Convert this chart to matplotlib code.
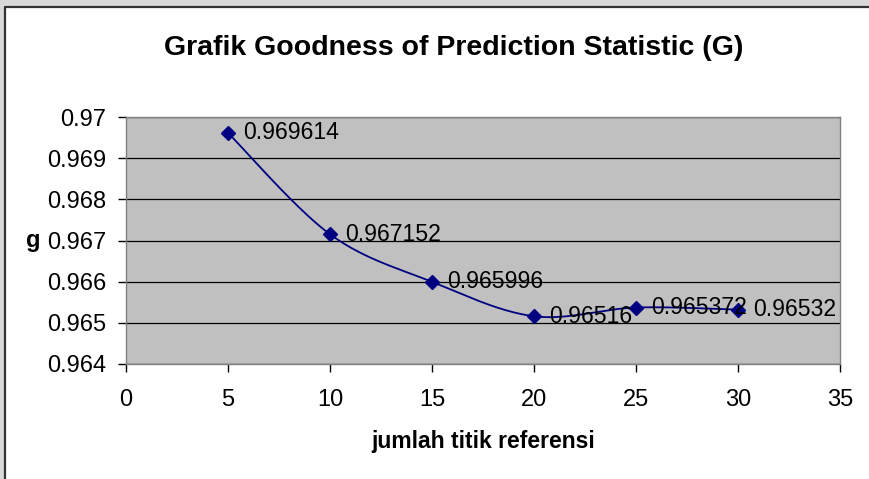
import numpy as np
import matplotlib
matplotlib.use("Agg")
import matplotlib.pyplot as plt
from matplotlib.patches import Rectangle
from matplotlib.lines import Line2D

plt.rcParams['font.family'] = ['Liberation Sans', 'DejaVu Sans']

# goodness of prediction per number of reference points
n_ref = [5, 10, 15, 20, 25, 30]
g_val = [0.969614, 0.967152, 0.965996, 0.96516, 0.965372, 0.96532]
g_lbl = ['0.969614', '0.967152', '0.965996', '0.96516', '0.965372', '0.96532']
xticks = [0, 5, 10, 15, 20, 25, 30, 35]
yticks = [0.964, 0.965, 0.966, 0.967, 0.968, 0.969, 0.97]
ytick_lbl = ['0.964', '0.965', '0.966', '0.967', '0.968', '0.969', '0.97']


def smooth(x, y, steps=40):
    # cubic Bezier through the points, Catmull-Rom style control points
    x = np.asarray(x, float); y = np.asarray(y, float)
    px = np.concatenate([[x[0]], x, [x[-1]]])
    py = np.concatenate([[y[0]], y, [y[-1]]])
    t = np.linspace(0, 1, steps)[:, None]
    xs, ys = [], []
    for i in range(1, len(px) - 2):
        p0 = np.array([px[i], py[i]]); p3 = np.array([px[i + 1], py[i + 1]])
        c1 = p0 + (p3 - np.array([px[i - 1], py[i - 1]])) / 6
        c2 = p3 - (np.array([px[i + 2], py[i + 2]]) - p0) / 6
        seg = ((1 - t) ** 3) * p0 + 3 * ((1 - t) ** 2) * t * c1 + 3 * (1 - t) * t ** 2 * c2 + t ** 3 * p3
        xs.append(seg[:, 0]); ys.append(seg[:, 1])
    return np.concatenate(xs), np.concatenate(ys)


fig = plt.figure(figsize=(8.7, 4.79), dpi=100)
fig.patch.set_facecolor('white')
# grey margin strips and the chart frame (top and left edges only)
x0, y0 = 5 / 870, 1 - 7 / 479
fig.add_artist(Rectangle((0, y0), 1, 1 - y0, transform=fig.transFigure,
                         facecolor='#d9d9d9', edgecolor='none', zorder=-10))
fig.add_artist(Rectangle((0, 0), x0, 1, transform=fig.transFigure,
                         facecolor='#d9d9d9', edgecolor='none', zorder=-10))
fig.add_artist(Line2D([x0, x0, 1], [0, y0, y0], transform=fig.transFigure,
                      color='#333333', lw=1.6, zorder=-9))

ax = fig.add_axes([126 / 870, 1 - 364 / 479, (840 - 126) / 870, (364 - 117) / 479])
ax.set_facecolor('#c0c0c0')
for s in ax.spines.values():
    s.set_color('#808080'); s.set_linewidth(1.0)

ax.set_xlim(0, 35)
ax.set_ylim(0.964, 0.97)
ax.set_xticks(xticks)
ax.set_yticks(yticks)
ax.set_yticklabels(ytick_lbl)
ax.tick_params(axis='both', labelsize=17, colors='black', length=6, width=1, direction='out')
ax.tick_params(axis='x', pad=12)
ax.tick_params(axis='y', pad=8)
ax.yaxis.grid(True, color='black', lw=0.9)
ax.set_axisbelow(True)

sx, sy = smooth(n_ref, g_val)
ax.plot(sx, sy, color='#000080', lw=1.3, zorder=3)
ax.plot(n_ref, g_val, linestyle='none', marker='D', ms=7, color='#000080', zorder=4)
for xv, yv, lb in zip(n_ref, g_val, g_lbl):
    ax.annotate(lb, (xv, yv), xytext=(15, 0), textcoords='offset pixels',
                ha='left', va='center', fontsize=16.6, zorder=5, annotation_clip=False)

ax.set_xlabel('jumlah titik referensi', fontsize=16.5, fontweight='bold', labelpad=14)
ax.set_ylabel('g', fontsize=17, fontweight='bold', rotation=0, labelpad=10, va='center')
fig.text(454 / 870, 1 - 48 / 479, 'Grafik Goodness of Prediction Statistic (G)',
         ha='center', va='center', fontsize=20.5, fontweight='bold')

fig.savefig('out.png', dpi=100)
